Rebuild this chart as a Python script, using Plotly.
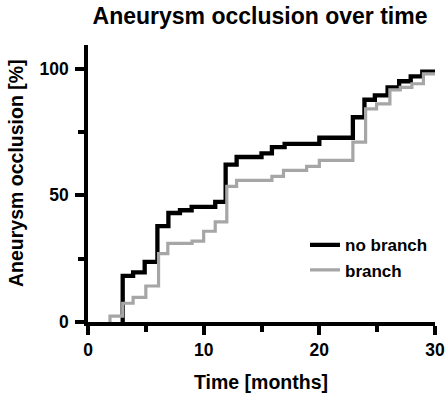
import plotly.graph_objects as go

# Data
no_branch_t = [3.0, 3.0, 3.9, 4.9, 6.0, 6.95, 7.95, 8.96, 11.0, 11.9, 12.85, 15.0, 15.9, 17.0, 20.0, 22.9, 23.9, 24.8, 25.9, 26.9, 27.9, 28.9, 30]
no_branch_v = [0, 18.2, 19.6, 23.7, 37.8, 43.0, 44.1, 45.4, 47.4, 62.1, 65.1, 66.5, 69.0, 70.3, 72.7, 80.8, 87.7, 89.4, 92.6, 95.0, 96.9, 98.8, 98.8]

branch_t = [1.9, 1.9, 3.0, 3.9, 5.0, 6.1, 6.9, 9.0, 10.0, 11.0, 12.0, 12.85, 15.9, 16.9, 18.9, 20.0, 22.9, 24.0, 24.95, 26.1, 27.0, 28.0, 29.0, 30]
branch_v = [0, 2.3, 7.4, 9.7, 14.2, 27.0, 31.0, 31.9, 35.8, 39.5, 53.5, 55.9, 57.5, 59.8, 61.4, 63.8, 71.0, 84.1, 86.1, 91.6, 92.6, 94.0, 97.9, 97.9]

x_ticks = [0, 10, 20, 30]
x_minor = [5, 15, 25]
y_ticks = [0, 50, 100]
y_minor = [25, 75]

FONT = "Liberation Sans, Arial, sans-serif"
L, R, T, B = 88, 12, 45, 73
W, H = 447, 395
PW, PH = W - L - R, H - T - B

fig = go.Figure()
fig.add_trace(go.Scatter(x=no_branch_t, y=no_branch_v, mode="lines", line_shape="hv",
                         name="<b>no branch</b>", line=dict(color="black", width=4.3)))
fig.add_trace(go.Scatter(x=branch_t, y=branch_v, mode="lines", line_shape="hv",
                         name="<b>branch</b>", line=dict(color="#a6a6a6", width=3.2)))

fig.update_layout(
    width=W, height=H,
    margin=dict(l=L, r=R, t=T, b=B),
    plot_bgcolor="white", paper_bgcolor="white",
    font=dict(family=FONT, color="black", size=17),
    title=dict(text="<b>Aneurysm occlusion over time</b>", x=260 / W, xanchor="center",
               y=1 - 16 / H, yanchor="middle", font=dict(size=23)),
    showlegend=True,
    legend=dict(x=(305 - L) / PW, y=0.342, xanchor="left", yanchor="top", bgcolor="rgba(0,0,0,0)",
                font=dict(size=17), itemwidth=30, tracegroupgap=0),
    annotations=[
        dict(text="<b>Time [months]</b>", xref="paper", yref="paper",
             x=(260.5 - L) / PW, y=(T + PH - 382) / PH, xanchor="center", yanchor="middle",
             showarrow=False, font=dict(size=19.5)),
        dict(text="<b>Aneurysm occlusion [%]</b>", xref="paper", yref="paper", textangle=-90,
             x=(15.5 - L) / PW, y=(T + PH - 173.5) / PH, xanchor="center", yanchor="middle",
             showarrow=False, font=dict(size=19.5)),
    ],
)
fig.update_xaxes(range=[0, 30], tickvals=x_ticks, ticktext=[f"<b>{v}</b>" for v in x_ticks],
                 automargin=False, showgrid=False, zeroline=False, showline=True,
                 linecolor="black", linewidth=3.5,
                 ticks="outside", ticklen=9, tickwidth=3.5, tickcolor="black",
                 minor=dict(tickvals=x_minor, ticks="outside", ticklen=6, tickwidth=3.5, tickcolor="black"),
                 tickfont=dict(size=17.5))
fig.update_yaxes(range=[0, 109.3], tickvals=y_ticks, ticktext=[f"<b>{v}</b>" for v in y_ticks],
                 automargin=False, showgrid=False, zeroline=False, showline=True,
                 linecolor="black", linewidth=3.5,
                 ticks="outside", ticklen=9, tickwidth=3.5, tickcolor="black", ticklabelstandoff=3,
                 minor=dict(tickvals=y_minor, ticks="outside", ticklen=6, tickwidth=3.5, tickcolor="black"),
                 tickfont=dict(size=17.5))

fig.write_html("out.html", config={"displayModeBar": False},
               post_script="document.body.style.margin='0';document.body.style.overflow='hidden';")
